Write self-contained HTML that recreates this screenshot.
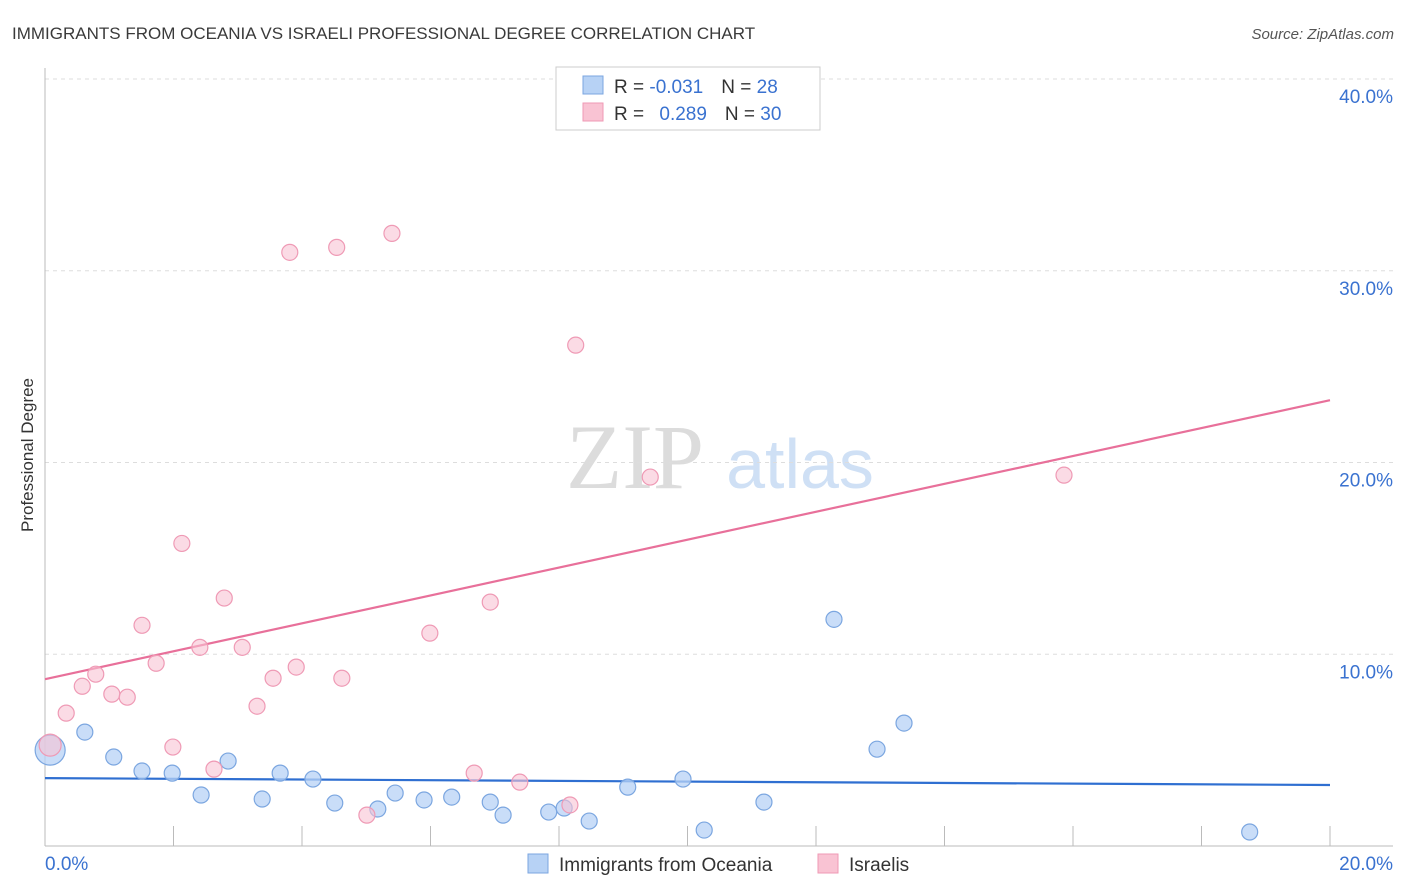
<!DOCTYPE html>
<html><head><meta charset="utf-8"><style>
body{margin:0;background:#fff;font-family:"Liberation Sans",sans-serif;}
svg{display:block}
</style></head><body>
<svg id="chart" width="1406" height="892">
<text x="12" y="39" font-size="17" fill="#3a3a3a">IMMIGRANTS FROM OCEANIA VS ISRAELI PROFESSIONAL DEGREE CORRELATION CHART</text>
<text x="1394" y="39" font-size="15" fill="#555" font-style="italic" text-anchor="end">Source: ZipAtlas.com</text>
<text transform="translate(33,455) rotate(-90)" font-size="17" fill="#333" text-anchor="middle">Professional Degree</text>
<g>
<text x="635" y="488" font-size="92" fill="#dcdcdc" font-family="Liberation Serif,serif" text-anchor="middle">ZIP</text>
<text x="800" y="488" font-size="70" fill="#cfe0f5" text-anchor="middle">atlas</text>
</g>
<g id="grid"></g><g id="axes"></g><g id="trends"></g><g id="points"></g>
<g>
<rect x="556" y="67" width="264" height="63" fill="#fff" stroke="#ccc"/>
<rect x="583" y="76" width="20" height="18" fill="#b7d2f5" stroke="#7ba6e0"/>
<rect x="583" y="103" width="20" height="18" fill="#f9c3d3" stroke="#ef9ab5"/>
<text x="614" y="93" font-size="19" fill="#333">R = <tspan fill="#3a72d0">-0.031</tspan><tspan dx="18">N = </tspan><tspan fill="#3a72d0">28</tspan></text>
<text x="614" y="120" font-size="19" fill="#333">R = <tspan fill="#3a72d0" dx="10">0.289</tspan><tspan dx="18">N = </tspan><tspan fill="#3a72d0">30</tspan></text>
</g>
<g>
<rect x="528" y="854" width="20" height="19" fill="#b7d2f5" stroke="#7ba6e0"/>
<text x="559" y="871" font-size="19" fill="#333">Immigrants from Oceania</text>
<rect x="818" y="854" width="20" height="19" fill="#f9c3d3" stroke="#ef9ab5"/>
<text x="849" y="871" font-size="19" fill="#333">Israelis</text>
</g>
</svg>
<script>
const blueX=[0.08,0.62,1.07,1.51,1.98,2.43,2.85,3.38,3.66,4.17,4.51,5.18,5.45,5.90,6.33,6.93,7.13,7.84,8.08,8.47,9.07,9.93,10.26,11.19,12.28,12.95,13.37,18.75];
const blueY=[5.0,5.94,4.64,3.91,3.80,2.66,4.43,2.45,3.80,3.49,2.24,1.93,2.76,2.40,2.55,2.29,1.61,1.77,1.98,1.30,3.07,3.49,0.83,2.29,11.82,5.05,6.41,0.73];
const pinkX=[0.08,0.33,0.58,0.79,1.04,1.28,1.51,1.73,1.99,2.13,2.41,2.63,2.79,3.07,3.30,3.55,3.81,3.91,4.54,4.62,5.01,5.40,5.99,6.68,6.93,7.39,8.17,8.26,9.42,15.86];
const pinkY=[5.26,6.93,8.33,8.96,7.92,7.76,11.51,9.53,5.16,15.78,10.36,4.01,12.93,10.36,7.29,8.75,30.96,9.33,31.22,8.75,1.61,31.95,11.10,3.80,12.72,3.33,2.14,26.12,19.24,19.34];
const blueTrend=[3.54,3.18];
const pinkTrend=[8.70,23.25];
const yTicks=[10,20,30,40];
const xTickLabels=["0.0%","20.0%"];
const NS="http://www.w3.org/2000/svg";
const xs=v=>45+v/20*1285;
const ys=v=>846-v*19.175;
function mk(tag,attrs,parent){const e=document.createElementNS(NS,tag);for(const k in attrs)e.setAttribute(k,attrs[k]);document.getElementById(parent).appendChild(e);return e;}
yTicks.forEach(t=>{
  const g=mk('line',{x1:45,x2:1393,y1:ys(t),y2:ys(t),stroke:'#ddd','stroke-dasharray':'4,4'},'grid');
  
  
  const l=mk('text',{x:1393,y:ys(t)+24,'font-size':19,fill:'#3a72d0','text-anchor':'end'},'grid');
  l.textContent=t.toFixed(1)+'%';
  
  
});
const ax=mk('line',{x1:45,x2:1393,y1:846,y2:846,stroke:'#bbb'},'axes');


const ay=mk('line',{x1:45,x2:45,y1:68,y2:846,stroke:'#bbb'},'axes');


for(let i=0;i<=10;i++){
  const t=mk('line',{x1:xs(i*2),x2:xs(i*2),y1:826,y2:846,stroke:'#bbb'},'axes');
  
  
}
const xl0=mk('text',{x:45,y:870,'font-size':19,fill:'#3a72d0'},'axes');xl0.textContent=xTickLabels[0];


const xl1=mk('text',{x:1393,y:870,'font-size':19,fill:'#3a72d0','text-anchor':'end'},'axes');xl1.textContent=xTickLabels[1];


const bt=mk('line',{x1:xs(0),x2:xs(20),y1:ys(blueTrend[0]),y2:ys(blueTrend[1]),stroke:'#2f6fd1','stroke-width':2.2},'trends');


const pt=mk('line',{x1:xs(0),x2:xs(20),y1:ys(pinkTrend[0]),y2:ys(pinkTrend[1]),stroke:'#e8709a','stroke-width':2.2},'trends');


blueX.forEach((x,i)=>{
  const c=mk('circle',{cx:xs(x),cy:ys(blueY[i]),r:i===0?15:8,fill:'#b7d2f5','fill-opacity':0.75,stroke:'#7ba6e0','stroke-width':1.2},'points');
  
  
});
pinkX.forEach((x,i)=>{
  const c=mk('circle',{cx:xs(x),cy:ys(pinkY[i]),r:i===0?11:8,fill:'#f9c3d3','fill-opacity':0.6,stroke:'#ef9ab5','stroke-width':1.2},'points');
  
  
});
</script>
</body></html>
